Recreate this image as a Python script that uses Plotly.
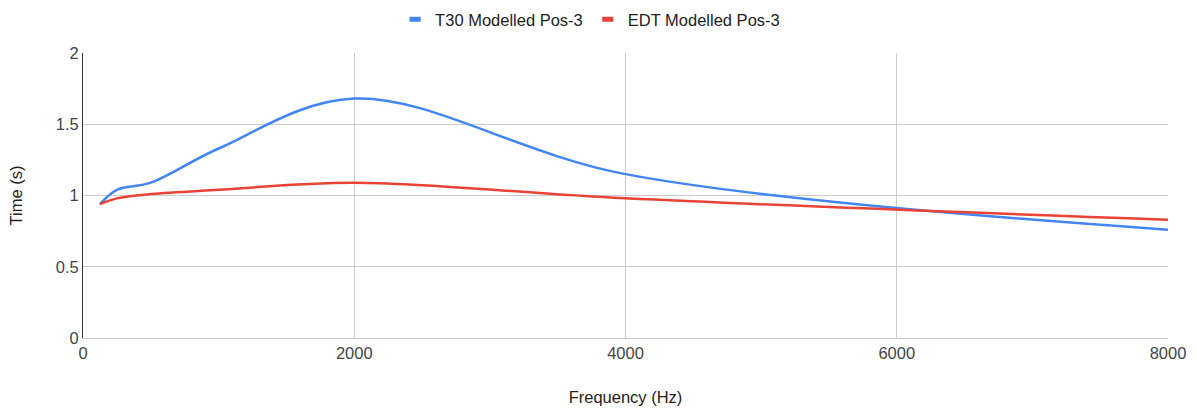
import plotly.graph_objects as go

# Octave-band centre frequencies (Hz)
frequency_hz = [125, 250, 500, 1000, 2000, 4000, 8000]
# Reverberation times (s)
t30_pos3 = [0.94, 1.04, 1.09, 1.33, 1.68, 1.15, 0.76]
edt_pos3 = [0.94, 0.98, 1.01, 1.04, 1.09, 0.98, 0.83]

series_names = ["T30 Modelled Pos-3", "EDT Modelled Pos-3"]
series_colors = ["#4285F4", "#EA4335"]

x_ticks = [0, 2000, 4000, 6000, 8000]
y_ticks = [0, 0.5, 1, 1.5, 2]

FONT = "Liberation Sans, Arial, sans-serif"
FS = 16.5

fig = go.Figure()
for name, color, values in zip(series_names, series_colors, [t30_pos3, edt_pos3]):
    fig.add_trace(go.Scatter(
        x=frequency_hz, y=values, name=name, mode="lines", showlegend=False,
        line=dict(color=color, width=2.5, shape="spline", smoothing=1.0),
    ))
    # legend entry drawn as a short thick bar
    fig.add_trace(go.Scatter(
        x=[None], y=[None], name=name, mode="markers",
        marker=dict(symbol="line-ew", size=8, color=color,
                    line=dict(color=color, width=5)),
    ))

fig.update_layout(
    width=1197, height=409,
    margin=dict(l=83, r=29, t=53, b=71, autoexpand=False),
    paper_bgcolor="white", plot_bgcolor="white",
    font=dict(family=FONT, size=FS, color="#222222"),
    legend=dict(orientation="h", x=0.493, xref="container", xanchor="center",
                y=0.995, yanchor="top", yref="container",
                font=dict(size=FS, color="#222222"),
                itemwidth=30, traceorder="normal"),
    showlegend=True,
)

fig.update_xaxes(
    range=[0, 8000], tickvals=x_ticks, ticktext=[str(v) for v in x_ticks],
    showgrid=True, gridcolor="#cccccc", gridwidth=1,
    showline=True, linecolor="#cccccc", mirror=False,
    zeroline=False, ticks="", tickfont=dict(size=FS, color="#444444"),
    title=dict(text="Frequency (Hz)", font=dict(size=FS, color="#222222"), standoff=30),
)
fig.update_yaxes(
    range=[0, 2], tickvals=y_ticks,
    showgrid=True, gridcolor="#cccccc", gridwidth=1,
    showline=True, linecolor="#333333", linewidth=1,
    zeroline=True, zerolinecolor="#333333", zerolinewidth=1,
    ticks="", tickfont=dict(size=FS, color="#444444"),
    title=dict(text="Time (s)", font=dict(size=FS, color="#222222"), standoff=28),
)

fig.write_html("out.html")
